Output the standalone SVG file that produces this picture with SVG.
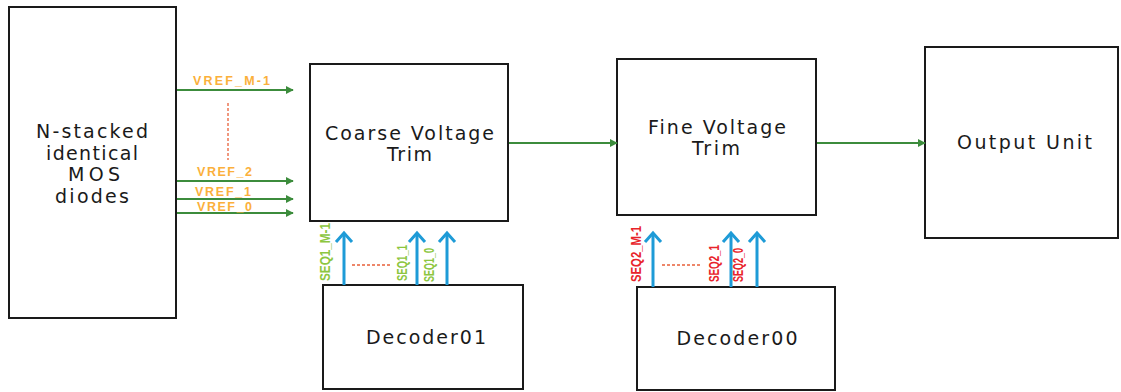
<svg xmlns="http://www.w3.org/2000/svg" width="1121" height="392" viewBox="0 0 1121 392">
<style>
.box{fill:#fff;stroke:#1a1a1a;stroke-width:2}
.lbl{font-family:"DejaVu Sans","Noto Sans",sans-serif;font-size:19px;fill:#1a1a1a;text-anchor:middle}
.vref{font-family:"Liberation Sans",Arial,sans-serif;font-size:12.5px;font-weight:bold;fill:#FBB03B}
.seq1{font-family:"Liberation Sans",Arial,sans-serif;font-size:14px;font-weight:bold;fill:#8CC63F}
.seq2{font-family:"Liberation Sans",Arial,sans-serif;font-size:14px;font-weight:bold;fill:#E8232A}
.g{stroke:#3C8C3C;stroke-width:2;fill:none}
.b{stroke:#1E9BD7;stroke-width:3;fill:none}
.d{stroke:#E8603A;stroke-width:1.3;stroke-dasharray:3 2;fill:none}
</style>
<defs>
<marker id="ga" viewBox="0 0 10 10" refX="9" refY="5" markerWidth="4" markerHeight="4" orient="auto" markerUnits="strokeWidth">
<path d="M0,0 L10,5 L0,10 z" fill="#3C8C3C"/>
</marker>
</defs>
<g id="mos">
<rect class="box" x="9" y="7" width="167" height="311"/>
<text class="lbl" x="92" y="138" textLength="112" lengthAdjust="spacing">N-stacked</text>
<text class="lbl" x="92" y="160" textLength="92" lengthAdjust="spacing">identical</text>
<text class="lbl" x="94" y="181" textLength="52" lengthAdjust="spacing">MOS</text>
<text class="lbl" x="92" y="203" textLength="74" lengthAdjust="spacing">diodes</text>
</g>
<g id="coarse">
<rect class="box" x="310" y="64" width="198" height="157"/>
<text class="lbl" x="409.5" y="140" textLength="169" lengthAdjust="spacing">Coarse Voltage</text>
<text class="lbl" x="409.5" y="161" textLength="45" lengthAdjust="spacing">Trim</text>
</g>
<g id="fine">
<rect class="box" x="617" y="59" width="199" height="156"/>
<text class="lbl" x="717" y="134" textLength="138" lengthAdjust="spacing">Fine Voltage</text>
<text class="lbl" x="716" y="155" textLength="48" lengthAdjust="spacing">Trim</text>
</g>
<g id="output">
<rect class="box" x="925" y="47" width="193" height="191"/>
<text class="lbl" x="1024.5" y="149" textLength="135" lengthAdjust="spacing">Output Unit</text>
</g>
<g id="decoder01">
<rect class="box" x="323" y="285" width="200" height="104"/>
<text class="lbl" x="426" y="344" textLength="120" lengthAdjust="spacing">Decoder01</text>
</g>
<g id="decoder00">
<rect class="box" x="637" y="287" width="198" height="103"/>
<text class="lbl" x="737" y="345" textLength="121" lengthAdjust="spacing">Decoder00</text>
</g>
<g id="connectors">
<line class="g" x1="177" y1="90" x2="293" y2="90" marker-end="url(#ga)"/>
<line class="g" x1="177" y1="181" x2="293" y2="181" marker-end="url(#ga)"/>
<line class="g" x1="177" y1="199" x2="293" y2="199" marker-end="url(#ga)"/>
<line class="g" x1="177" y1="213" x2="293" y2="213" marker-end="url(#ga)"/>
<line class="g" x1="509" y1="143" x2="617" y2="143" marker-end="url(#ga)"/>
<line class="g" x1="817" y1="143" x2="925" y2="143" marker-end="url(#ga)"/>
<line class="d" x1="228" y1="103" x2="228" y2="160"/>
<text class="vref" x="193" y="85" textLength="77" lengthAdjust="spacing">VREF_M-1</text>
<text class="vref" x="197" y="176" textLength="55" lengthAdjust="spacing">VREF_2</text>
<text class="vref" x="195" y="196" textLength="56" lengthAdjust="spacing">VREF_1</text>
<text class="vref" x="197" y="211" textLength="55" lengthAdjust="spacing">VREF_0</text>
<g class="b">
<line x1="344" y1="285" x2="344" y2="233"/><polyline points="336,242 344,233 352,242"/>
<line x1="417" y1="285" x2="417" y2="233"/><polyline points="409,242 417,233 425,242"/>
<line x1="447" y1="285" x2="447" y2="233"/><polyline points="439,242 447,233 455,242"/>
<line x1="653" y1="287" x2="653" y2="233"/><polyline points="645,242 653,233 661,242"/>
<line x1="731" y1="287" x2="731" y2="233"/><polyline points="723,242 731,233 739,242"/>
<line x1="757" y1="287" x2="757" y2="233"/><polyline points="749,242 757,233 765,242"/>
</g>
<line class="d" x1="352" y1="265" x2="391" y2="265"/>
<line class="d" x1="662" y1="265" x2="700" y2="265"/>
<text class="seq1" transform="translate(330,281) rotate(-90)" textLength="58" lengthAdjust="spacingAndGlyphs">SEQ1_M-1</text>
<text class="seq1" transform="translate(407,281) rotate(-90)" textLength="36" lengthAdjust="spacingAndGlyphs">SEQ1_1</text>
<text class="seq1" transform="translate(434,282) rotate(-90)" textLength="34" lengthAdjust="spacingAndGlyphs">SEQ1_0</text>
<text class="seq2" transform="translate(641,282) rotate(-90)" textLength="56" lengthAdjust="spacingAndGlyphs">SEQ2_M-1</text>
<text class="seq2" transform="translate(719,282) rotate(-90)" textLength="37" lengthAdjust="spacingAndGlyphs">SEQ2_1</text>
<text class="seq2" transform="translate(743,282) rotate(-90)" textLength="34" lengthAdjust="spacingAndGlyphs">SEQ2_0</text>
</g>
</svg>
